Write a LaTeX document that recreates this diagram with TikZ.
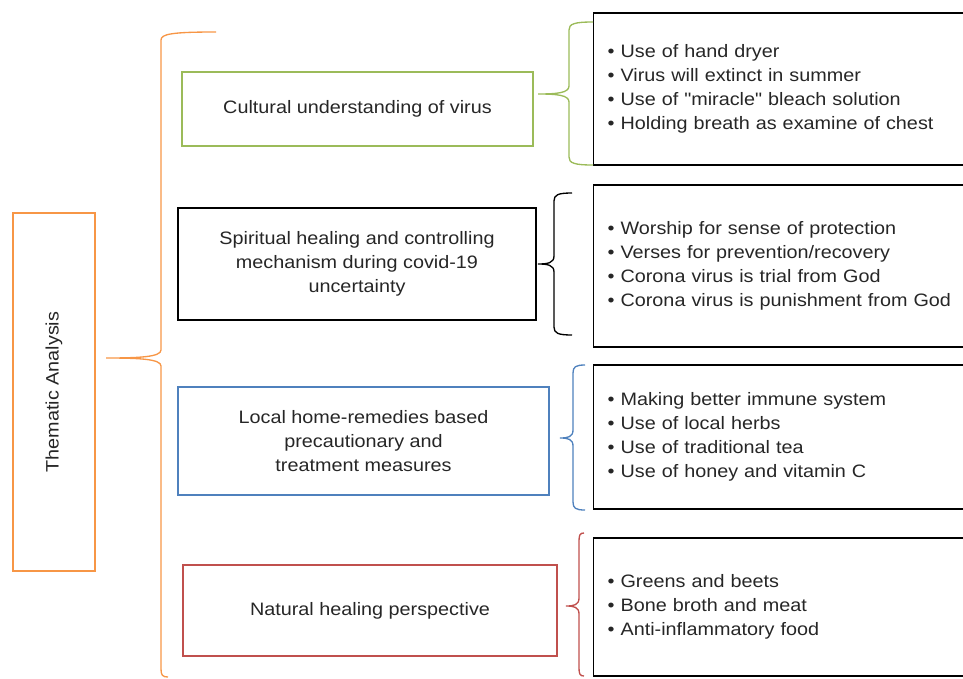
\documentclass[tikz,border=0pt]{standalone}
\usepackage{fontspec}
\setmainfont{Liberation Sans}[FakeStretch=1.1, Ligatures=TeXOff]
\usepackage{xcolor}
\definecolor{themeorange}{RGB}{247,150,70}
\definecolor{themegreen} {RGB}{155,187,89}
\definecolor{themeblue}  {RGB}{79,129,189}
\definecolor{themered}   {RGB}{192,80,77}
\definecolor{textgray}   {RGB}{38,38,38}

% curly brace: colour, spine x, tip x, top y, tip y, bottom y, top end x, bottom end x
\newcommand{\groupbrace}[8]{%
  \draw[#1, line width=1pt]
    (#7,#4) .. controls ({#2+0.2*(#7-#2)},#4) and (#2,{#4+2}) .. (#2,{#4+8})
    -- (#2,{#5-8}) .. controls (#2,{#5-1}) and ({#2-0.4*(#2-#3)},#5) .. (#3,#5)
    .. controls ({#2-0.4*(#2-#3)},#5) and (#2,{#5+1}) .. (#2,{#5+8})
    -- (#2,{#6-8}) .. controls (#2,{#6-2}) and ({#2+0.2*(#8-#2)},#6) .. (#8,#6);}

\begin{document}
\begin{tikzpicture}[
  x=0.75pt, y=-0.75pt,
  every node/.style={font=\fontsize{13.5pt}{18pt}\selectfont, text=textgray},
  theme/.style={draw=themeorange, line width=0.9pt, rotate=90, minimum width=268.5pt, minimum height=61.5pt},
  topic/.style={line width=0.9pt, align=center},
  listbox/.style={draw=black, line width=1pt, anchor=west, align=left, text width=265.5pt, inner xsep=10.5pt}
]
  \useasboundingbox (0,0) rectangle (963,678);

  % Nodes
  \node (thematic) [theme] at (54,392) {Thematic Analysis};

  \node (cultural) [topic, draw=themegreen, minimum width=263.25pt, minimum height=55.5pt] at (357.5,109)
    {Cultural understanding of virus};
  \node (spiritual) [topic, draw=black, minimum width=268.5pt, minimum height=84pt] at (357,264)
    {Spiritual healing and controlling\\mechanism during covid-19\\uncertainty};
  \node (remedies) [topic, draw=themeblue, minimum width=278.25pt, minimum height=81pt] at (363.5,441)
    {Local home-remedies based\\precautionary and\\treatment measures};
  \node (natural) [topic, draw=themered, minimum width=280.5pt, minimum height=68.25pt] at (370,610.5)
    {Natural healing perspective};

  \node (beliefs) [listbox, minimum height=114pt] at (593,89)
    {• Use of hand dryer\\• Virus will extinct in summer\\• Use of "miracle" bleach solution\\• Holding breath as examine of chest};
  \node (faith) [listbox, minimum height=121.5pt] at (593,266)
    {• Worship for sense of protection\\• Verses for prevention/recovery\\• Corona virus is trial from God\\• Corona virus is punishment from God};
  \node (homecare) [listbox, minimum height=108pt] at (593,437)
    {• Making better immune system\\• Use of local herbs\\• Use of traditional tea\\• Use of honey and vitamin C};
  \node (diet) [listbox, minimum height=103.5pt] at (593,607)
    {• Greens and beets\\• Bone broth and meat\\• Anti-inflammatory food};

  % Braces
  \groupbrace{themeorange}{161}{106}{32}{358}{677}{216}{168}
  \groupbrace{themegreen}{569}{538}{22}{94}{165}{593}{593}
  \groupbrace{black}{554}{538}{193}{264}{335}{572}{572}
  \groupbrace{themeblue}{573}{560}{365}{438}{510}{585}{585}
  \groupbrace{themered}{579}{566}{533}{606}{676}{584}{584}
\end{tikzpicture}
\end{document}
